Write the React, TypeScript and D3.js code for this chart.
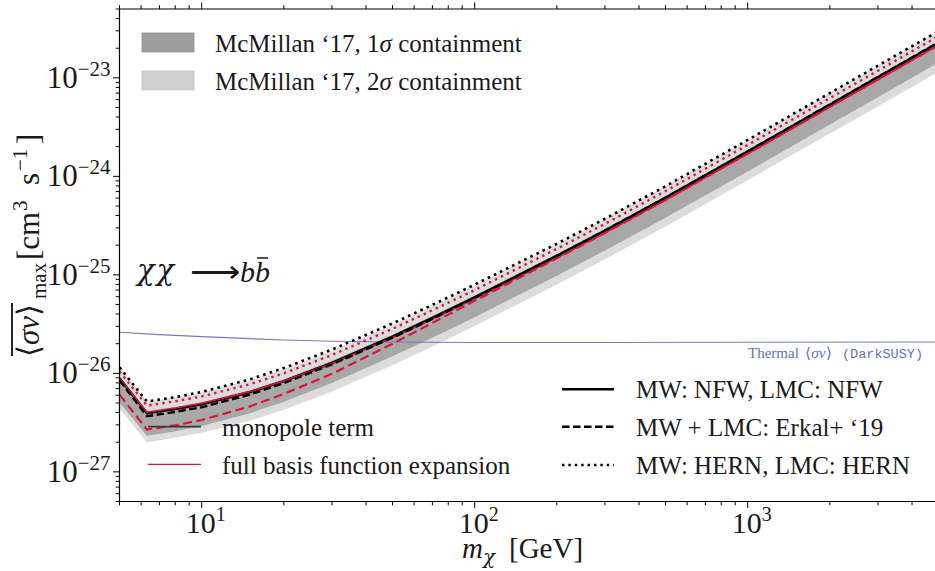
import React from 'react';
import * as d3 from 'd3';

// ---- data ----
const masses = [5, 6.3, 8, 10, 15, 20, 30, 50, 70, 100, 200, 300, 500, 1000, 2000, 3000, 5000];

const nfwMonopole = [8.89e-27, 3.94e-27, 4.35e-27, 4.85e-27, 6.44e-27, 8.34e-27, 1.276e-26, 2.355e-26, 3.65e-26, 5.9e-26, 1.556e-25, 2.8e-25, 6.03e-25, 1.778e-24, 5.32e-24, 1.009e-23, 2.265e-23];
const nfwFull = [8.89e-27, 4.03e-27, 4.45e-27, 4.97e-27, 6.52e-27, 8.34e-27, 1.26e-26, 2.3e-26, 3.55e-26, 5.7e-26, 1.49e-25, 2.67e-25, 5.75e-25, 1.69e-24, 5.05e-24, 9.57e-24, 2.15e-23];
const erkalMonopole = [8.49e-27, 3.67e-27, 4.06e-27, 4.53e-27, 6.08e-27, 7.96e-27, 1.233e-26, 2.3e-26, 3.58e-26, 5.83e-26, 1.56e-25, 2.82e-25, 6.08e-25, 1.79e-24, 5.37e-24, 1.02e-23, 2.29e-23];
const erkalFull = [6.07e-27, 2.69e-27, 2.97e-27, 3.36e-27, 4.61e-27, 6.18e-27, 9.91e-27, 2.0e-26, 3.25e-26, 5.45e-26, 1.47e-25, 2.66e-25, 5.75e-25, 1.7e-24, 5.08e-24, 9.64e-24, 2.16e-23];
const hernMonopole = [1.151e-26, 5.18e-27, 5.73e-27, 6.47e-27, 8.69e-27, 1.132e-26, 1.742e-26, 3.21e-26, 4.95e-26, 7.96e-26, 2.07e-25, 3.71e-25, 7.94e-25, 2.34e-24, 7.01e-24, 1.33e-23, 2.98e-23];
const hernFull = [1.047e-26, 4.71e-27, 5.2e-27, 5.83e-27, 7.74e-27, 1.002e-26, 1.535e-26, 2.83e-26, 4.37e-26, 7.01e-26, 1.84e-25, 3.29e-25, 7.08e-25, 2.08e-24, 6.22e-24, 1.18e-23, 2.65e-23];

const band1Hi = [9.31e-27, 4.12e-27, 4.55e-27, 5.08e-27, 6.75e-27, 8.73e-27, 1.34e-26, 2.47e-26, 3.82e-26, 6.18e-26, 1.63e-25, 2.93e-25, 6.31e-25, 1.86e-24, 5.57e-24, 1.06e-23, 2.37e-23];
const band1Lo = [5.07e-27, 2.33e-27, 2.59e-27, 2.92e-27, 3.93e-27, 5.14e-27, 7.96e-27, 1.49e-26, 2.3e-26, 3.72e-26, 9.82e-26, 1.77e-25, 3.8e-25, 1.12e-24, 3.36e-24, 6.37e-24, 1.43e-23];
const band2Hi = [1.172e-26, 5.19e-27, 5.73e-27, 6.4e-27, 8.49e-27, 1.099e-26, 1.683e-26, 3.105e-26, 4.81e-26, 7.78e-26, 2.05e-25, 3.69e-25, 7.94e-25, 2.34e-24, 7.01e-24, 1.33e-23, 2.985e-23];
const band2Lo = [4.36e-27, 2.0e-27, 2.23e-27, 2.49e-27, 3.3e-27, 4.28e-27, 6.55e-27, 1.21e-26, 1.87e-26, 3.03e-26, 7.98e-26, 1.44e-25, 3.09e-25, 9.12e-25, 2.73e-24, 5.12e-24, 1.15e-23];

const thermalMasses = [5, 7, 10, 15, 20, 30, 50, 100, 300, 1000, 5000];
const thermalValues = [2.61e-26, 2.47e-26, 2.36e-26, 2.25e-26, 2.18e-26, 2.12e-26, 2.08e-26, 2.06e-26, 2.06e-26, 2.07e-26, 2.08e-26];

const xMajorTicks = [10, 100, 1000];
const xTickExponents = ['1', '2', '3'];
const yMajorTicks = [1e-27, 1e-26, 1e-25, 1e-24, 1e-23];
const yTickExponents = ['−27', '−26', '−25', '−24', '−23'];

const legendBands = ['McMillan ‘17, 1', 'McMillan ‘17, 2'];
const legendProfiles = ['MW: NFW, LMC: NFW', 'MW + LMC: Erkal+ ‘19', 'MW: HERN, LMC: HERN'];
const legendTerms = ['monopole term', 'full basis function expansion'];

// ---- layout ----
const W = 935, H = 571;
const L = 119.5, R = 938.5, T = 9, B = 501.5;
const SERIF = "'Liberation Serif', 'Times New Roman', serif";
const GREEK = "'DejaVu Serif', serif";
const MONO = "'Liberation Mono', 'DejaVu Sans Mono', monospace";
const RED = '#dc143c';
const DARK = '#a8a8a8';
const LIGHT = '#dcdcdc';
const THERMAL = '#7676d2';
const INK = '#1a1a1a';

export default function App() {
  const x = d3.scaleLog().domain([5, 5000]).range([L, R]);
  const y = d3.scaleLog().domain([5e-28, 5e-23]).range([B, T]);

  const line = (vals: number[], ms: number[] = masses) =>
    d3.line<number>().x((_, i) => x(ms[i])).y((v) => y(v))(vals) as string;
  const area = (lo: number[], hi: number[]) =>
    d3.area<number>().x((_, i) => x(masses[i])).y0((_, i) => y(lo[i])).y1((_, i) => y(hi[i]))(lo) as string;

  const xMinor: number[] = [];
  for (let e = 0; e <= 3; e++) for (let k = 2; k <= 9; k++) {
    const v = k * Math.pow(10, e);
    if (v >= 5 && v <= 5000) xMinor.push(v);
  }
  const yMinor: number[] = [];
  for (let e = -28; e <= -23; e++) for (let k = 2; k <= 9; k++) {
    const v = k * Math.pow(10, e);
    if (v >= 5e-28 && v <= 5e-23) yMinor.push(v);
  }

  return (
    <svg width={W} height={H} style={{ position: 'absolute', left: 0, top: 0, background: '#fff', fontFamily: SERIF }}>
      <defs>
        <clipPath id="plot"><rect x={L} y={T} width={R - L} height={B - T} /></clipPath>
      </defs>
      <g clipPath="url(#plot)">
        <path d={area(band2Lo, band2Hi)} fill={LIGHT} />
        <path d={area(band1Lo, band1Hi)} fill={DARK} />
        <path d={line(thermalValues, thermalMasses)} fill="none" stroke={THERMAL} strokeWidth={1.1} />
        <path d={line(hernMonopole)} fill="none" stroke="#000" strokeWidth={2.6} strokeDasharray="2.6,4.2" />
        <path d={line(hernFull)} fill="none" stroke={RED} strokeWidth={2.4} strokeDasharray="2.4,4.2" />
        <path d={line(nfwMonopole)} fill="none" stroke="#000" strokeWidth={2.6} />
        <path d={line(nfwFull)} fill="none" stroke={RED} strokeWidth={1.6} />
        <path d={line(erkalMonopole)} fill="none" stroke="#000" strokeWidth={2.4} strokeDasharray="7.5,3.5" />
        <path d={line(erkalFull)} fill="none" stroke={RED} strokeWidth={2.2} strokeDasharray="9,4.5" />
      </g>

      {/* frame */}
      <g stroke="#000" strokeWidth={1.2} fill="none">
        <line x1={L} x2={L} y1={T} y2={B} />
        <line x1={L} x2={R} y1={B} y2={B} />
        <line x1={L} x2={R} y1={T} y2={T} />
        <line x1={R} x2={R} y1={T} y2={B} />
      </g>
      <g stroke="#000" strokeWidth={1}>
        {xMajorTicks.map((v) => (
          <g key={'xm' + v}>
            <line x1={x(v)} x2={x(v)} y1={B} y2={B + 6.5} />
            <line x1={x(v)} x2={x(v)} y1={T} y2={T - 6.5} />
          </g>
        ))}
        {xMinor.map((v) => (
          <g key={'xn' + v}>
            <line x1={x(v)} x2={x(v)} y1={B} y2={B + 3.8} />
            <line x1={x(v)} x2={x(v)} y1={T} y2={T - 3.8} />
          </g>
        ))}
        {yMajorTicks.map((v) => (
          <line key={'ym' + v} x1={L} x2={L - 6.5} y1={y(v)} y2={y(v)} />
        ))}
        {yMinor.map((v) => (
          <line key={'yn' + v} x1={L} x2={L - 3.8} y1={y(v)} y2={y(v)} />
        ))}
      </g>
      {xMajorTicks.map((v, i) => (
        <text key={'xl' + v} x={x(v) + 4} y={B + 31} fontSize={30} textAnchor="middle" fill={INK}>
          10<tspan fontSize={20} dy={-12}>{xTickExponents[i]}</tspan>
        </text>
      ))}
      {yMajorTicks.map((v, i) => (
        <text key={'yl' + v} x={L - 9} y={y(v) + 10} fontSize={31} textAnchor="end" fill={INK}>
          10<tspan fontSize={21} dy={-12}>{yTickExponents[i]}</tspan>
        </text>
      ))}

      {/* x axis label */}
      <text x={462} y={558} fontSize={29} fill={INK}>
        <tspan fontStyle="italic">m</tspan>
        <tspan fontStyle="italic" fontSize={20} dy={6} fontFamily={GREEK}>χ</tspan>
      </text>
      <text x={509} y={558} fontSize={29} fill={INK}>[GeV]</text>

      {/* y axis label, rotated */}
      <g transform="translate(39,357) rotate(-90)" fill={INK}>
        <text x={0} y={0} fontSize={31}>⟨<tspan fontStyle="italic">σv</tspan>⟩</text>
        <line x1={1} x2={54} y1={-27} y2={-27} stroke="#000" strokeWidth={1.7} />
        <text x={58} y={7} fontSize={21}>max</text>
        <text x={97} y={0} fontSize={31}>[cm</text>
        <text x={146} y={-12} fontSize={21}>3</text>
        <text x={172} y={0} fontSize={31}>s</text>
        <text x={186} y={-12} fontSize={21}>−1</text>
        <text x={213} y={0} fontSize={31}>]</text>
      </g>

      {/* process annotation */}
      <text x={137} y={280} fontSize={29} fontStyle="italic" fontFamily={GREEK} fill={INK} letterSpacing={2}>χχ</text>
      <text x={190} y={282} fontSize={31} fill={INK} textLength={50} lengthAdjust="spacingAndGlyphs">⟶</text>
      <text x={240} y={282} fontSize={30} fontStyle="italic" fill={INK}>bb</text>
      <line x1={257} x2={268} y1={258} y2={258} stroke={INK} strokeWidth={1.5} />

      {/* thermal annotation */}
      <g fill="#6b6bc8">
        <text x={748} y={358} fontSize={15}>Thermal</text>
        <text x={805} y={358} fontSize={15} textLength={27} lengthAdjust="spacingAndGlyphs">⟨<tspan fontStyle="italic">σv</tspan>⟩</text>
        <text x={842} y={358} fontSize={13.5} fontFamily={MONO} textLength={81} lengthAdjust="spacingAndGlyphs">(DarkSUSY)</text>
      </g>

      {/* band legend */}
      <rect x={142} y={33} width={52} height={19} fill="#9e9e9e" stroke="#8c8c8c" strokeWidth={0.8} />
      <rect x={142} y={71} width={52} height={19} fill="#d0d0d0" stroke="#c4c4c4" strokeWidth={0.8} />
      {legendBands.map((t, i) => (
        <text key={t} x={215} y={52 + i * 38} fontSize={25} fill={INK}>
          {t}<tspan fontStyle="italic">σ</tspan> containment
        </text>
      ))}

      {/* term legend */}
      <line x1={148} x2={201} y1={426.7} y2={426.7} stroke="#3a3a3a" strokeWidth={1.8} />
      <line x1={148} x2={201} y1={464.3} y2={464.3} stroke={RED} strokeWidth={1.2} />
      {legendTerms.map((t, i) => (
        <text key={t} x={222} y={436 + i * 38} fontSize={25} fill={INK}>{t}</text>
      ))}

      {/* profile legend */}
      <line x1={562} x2={614} y1={389.3} y2={389.3} stroke="#000" strokeWidth={2.6} />
      <line x1={562} x2={614} y1={426.7} y2={426.7} stroke="#000" strokeWidth={2.4} strokeDasharray="7.5,3.5" />
      <line x1={562} x2={614} y1={465} y2={465} stroke="#000" strokeWidth={2.4} strokeDasharray="2.4,4" />
      {legendProfiles.map((t, i) => (
        <text key={t} x={636} y={398 + i * 38} fontSize={25} fill={INK}>{t}</text>
      ))}
    </svg>
  );
}
